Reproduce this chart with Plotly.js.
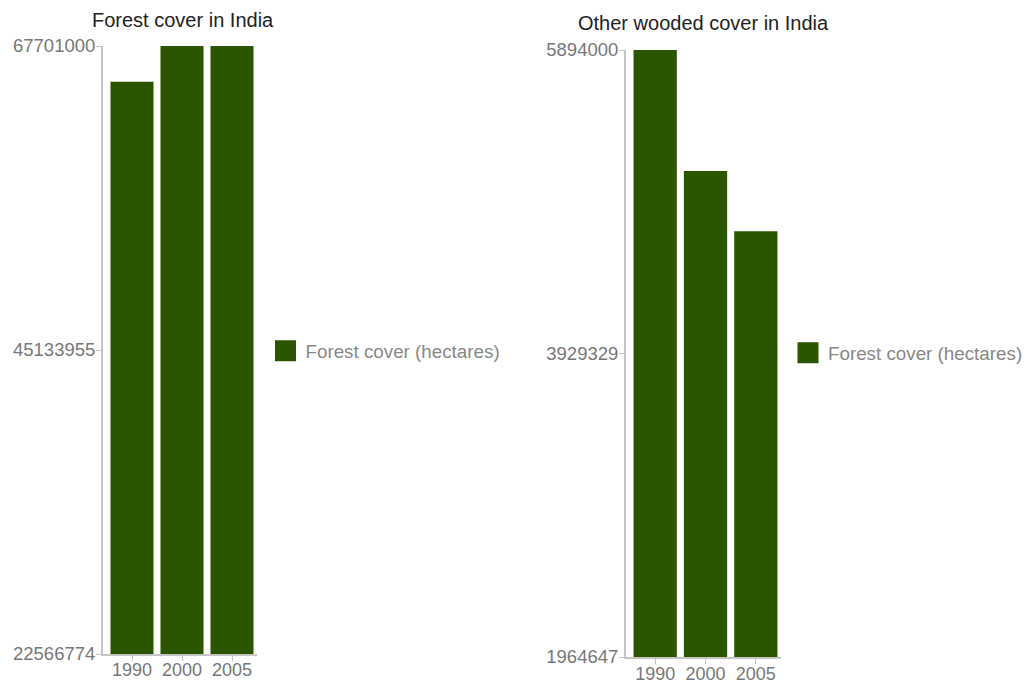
<!DOCTYPE html>
<html><head><meta charset="utf-8">
<script src="https://cdn.plot.ly/plotly-3.0.1.min.js"></script>
<style>html,body{margin:0;padding:0;background:#fff}#chart{width:1028px;height:683px}</style>
</head><body><div id="chart"></div>
<script>
const years = ["1990", "2000", "2005"];
const forestCover = [65050000, 67701000, 67701000];
const otherWooded = [5894000, 5110000, 4720000];
const forestTicks = [22566774, 45133955, 67701000];
const woodedTicks = [1964647, 3929329, 5894000];
const seriesName = "Forest cover (hectares)";
const chartTitles = ["Forest cover in India", "Other wooded cover in India"];

const W = 1028, H = 683;
const FONT = "Liberation Sans, Arial, Helvetica, sans-serif";
const BAR = "#2c5500";

const traces = [
  {type: "bar", x: years, y: forestCover, name: seriesName, xaxis: "x", yaxis: "y",
   marker: {color: BAR}, legend: "legend", hoverinfo: "x+y"},
  {type: "bar", x: years, y: otherWooded, name: seriesName, xaxis: "x2", yaxis: "y2",
   marker: {color: BAR}, legend: "legend2", hoverinfo: "x+y"}
];

function xAx(d0, d1, anchor, standoff) {
  return {domain: [d0 / W, d1 / W], anchor: anchor, type: "category", range: [-0.58, 2.5],
    showline: true, linecolor: "#c4c4c4", linewidth: 2, ticks: "outside", ticklen: 5,
    tickcolor: "#c4c4c4", tickwidth: 1, showgrid: false, zeroline: false,
    ticklabelstandoff: standoff,
    tickfont: {family: FONT, size: 18, color: "#777"}, fixedrange: true};
}
function yAx(top, bottom, anchor, range, ticks) {
  return {domain: [(H - bottom) / H, (H - top) / H], anchor: anchor, range: range,
    tickmode: "array", tickvals: ticks, ticktext: ticks.map(String),
    showline: true, linecolor: "#c4c4c4", linewidth: 2, ticks: "outside", ticklen: 5,
    tickcolor: "#c4c4c4", tickwidth: 1, showgrid: false, zeroline: false,
    ticklabelstandoff: -3,
    tickfont: {family: FONT, size: 18.5, color: "#777"}, fixedrange: true};
}

const legendBase = {xanchor: "left", yanchor: "middle", bgcolor: "rgba(0,0,0,0)",
  font: {family: FONT, size: 18.8, color: "#888"}};

const layout = {
  width: W, height: H,
  margin: {l: 0, r: 0, t: 0, b: 0},
  paper_bgcolor: "#fff", plot_bgcolor: "#fff",
  showlegend: true, bargap: 0.14,
  font: {family: FONT},
  xaxis: xAx(103, 257, "y", -7),
  yaxis: yAx(46, 654, "x", [forestTicks[0], forestTicks[2]], forestTicks),
  xaxis2: xAx(626, 781, "y2", -6),
  yaxis2: yAx(50, 657, "x2", [woodedTicks[0], woodedTicks[2]], woodedTicks),
  legend: Object.assign({x: 265.5 / W, y: 1 - 351 / H}, legendBase),
  legend2: Object.assign({x: 788.3 / W, y: 1 - 353 / H}, legendBase),
  annotations: [
    {text: chartTitles[0], xref: "paper", yref: "paper", x: 182.5 / W, y: 1 - 20 / H,
     xanchor: "center", yanchor: "middle", showarrow: false,
     font: {family: FONT, size: 20, color: "#222"}},
    {text: chartTitles[1], xref: "paper", yref: "paper", x: 703.3 / W, y: 1 - 23 / H,
     xanchor: "center", yanchor: "middle", showarrow: false,
     font: {family: FONT, size: 20, color: "#222"}}
  ]
};

Plotly.newPlot("chart", traces, layout, {displayModeBar: false, staticPlot: true}).then(function (gd) {
  gd.querySelectorAll(".legendpoints path").forEach(function (p) {
    p.setAttribute("d", "M10.5,10.5H-10.5V-10.5H10.5Z");
  });
});
</script>
</body></html>
